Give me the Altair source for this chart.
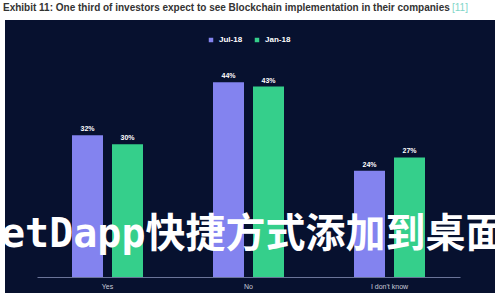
import altair as alt
import pandas as pd

categories = ["Yes", "No", "I don't know"]
series = ["Jul-18", "Jan-18"]
jul_values = [32, 44, 24]
jan_values = [30, 43, 27]
title_text = "Exhibit 11: One third of investors expect to see Blockchain implementation in their companies"
ref_text = "[11]"
watermark = "etDapp快捷方式添加到桌面"

rows = []
for c, a, b in zip(categories, jul_values, jan_values):
    rows.append({"cat": c, "series": series[0], "value": a, "label": f"{a}%"})
    rows.append({"cat": c, "series": series[1], "value": b, "label": f"{b}%"})
df = pd.DataFrame(rows)

one = pd.DataFrame({"t": [title_text], "r": [ref_text], "w": [watermark]})

purple = "#8383ef"
green = "#35cf8b"
panel = "#07112f"

x_enc = alt.X("cat:N", sort=categories, title=None,
              scale=alt.Scale(paddingInner=0, paddingOuter=0),
              axis=alt.Axis(labelAngle=0, ticks=False, domainColor="#6a7498",
                            labelColor="#c8cbd8", labelFontSize=7, labelPadding=5,
                            labelFont="Liberation Sans", zindex=2))
xo_enc = alt.XOffset("series:N", sort=series,
                     scale=alt.Scale(paddingInner=0.225, paddingOuter=0.875))
y_enc = alt.Y("value:Q", scale=alt.Scale(domain=[0, 49]), axis=None)

bg = alt.Chart(one).mark_rect(color=panel).encode(
    x=alt.value(-32), x2=alt.value(458), y=alt.value(-40), y2=alt.value(233))

title = alt.Chart(one).mark_text(align="left", baseline="middle", fontSize=10,
                                 fontWeight="bold", color="#333333",
                                 font="Liberation Sans").encode(
    text="t:N", x=alt.value(-34), y=alt.value(-52))
ref = alt.Chart(one).mark_text(align="left", baseline="middle", fontSize=10,
                               color="#7fd6c8", font="Liberation Sans").encode(
    text="r:N", x=alt.value(415), y=alt.value(-52))

bars = alt.Chart(df).mark_bar().encode(
    x=x_enc, xOffset=xo_enc, y=y_enc,
    color=alt.Color("series:N", sort=series,
                    scale=alt.Scale(domain=series, range=[purple, green]),
                    legend=alt.Legend(title=None, orient="none", legendX=170, legendY=-24,
                                      direction="horizontal", symbolType="square",
                                      symbolSize=20, symbolStrokeWidth=0,
                                      labelColor="#ffffff", labelFontSize=8,
                                      labelFont="Liberation Sans", labelFontWeight="bold",
                                      columnPadding=10)))

labels = alt.Chart(df).mark_text(dy=-6, fontSize=7, color="#ffffff",
                                 font="Liberation Sans", fontWeight="bold").encode(
    x=x_enc, xOffset=xo_enc, y=y_enc, text="label:N")

wm = alt.Chart(one).mark_text(align="left", baseline="middle", fontSize=40,
                              fontWeight="bold", color="#ffffff",
                              font="DejaVu Sans Mono, Noto Sans CJK SC").encode(
    text="w:N", x=alt.value(-36), y=alt.value(175))

chart = alt.layer(bg, title, ref, bars, labels, wm).properties(
    width=423, height=217,
    autosize=alt.AutoSizeParams(type="none"),
    padding={"left": 37, "top": 60, "right": 40, "bottom": 23},
    background="#ffffff",
).configure_view(stroke=None)

chart.save("out.html", embed_options={"renderer": "svg", "actions": False})
